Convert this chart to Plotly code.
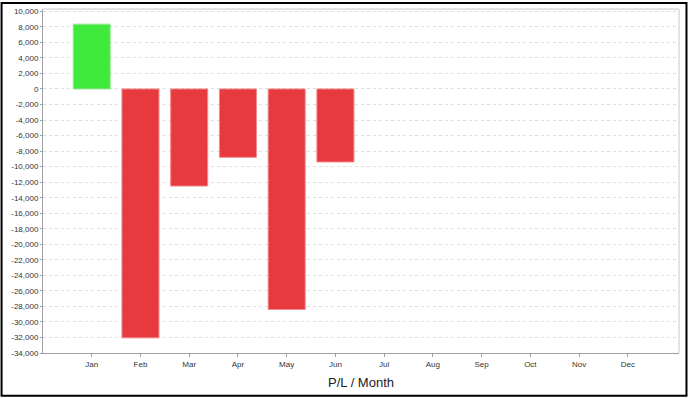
import plotly.graph_objects as go

months = ["Jan", "Feb", "Mar", "Apr", "May", "Jun", "Jul", "Aug", "Sep", "Oct", "Nov", "Dec"]
pl_values = [8350, -32050, -12500, -8800, -28400, -9400, None, None, None, None, None, None]
y_tick_vals = list(range(-34000, 10001, 2000))
y_tick_text = [f"{v:,}" for v in y_tick_vals]

GREEN = "#3FEA3C"
RED = "#E8393E"
colors = [GREEN if (v is not None and v >= 0) else RED for v in pl_values]
line_colors = ["#9BE59A" if (v is not None and v >= 0) else "#F08A8C" for v in pl_values]

W, H = 688, 398
ML, MR, MT, MB = 42.5, 8.5, 7, 45
PW, PH = W - ML - MR, H - MT - MB

fig = go.Figure()
fig.add_trace(go.Bar(
    x=months, y=pl_values,
    marker=dict(color=colors, line=dict(color=line_colors, width=1)),
    width=0.76,
    hoverinfo="x+y",
))

fig.update_layout(
    width=W, height=H,
    margin=dict(l=ML, r=MR, t=MT, b=MB, pad=0),
    paper_bgcolor="white", plot_bgcolor="white",
    showlegend=False,
    font=dict(family="Liberation Sans, Arial, sans-serif", size=8, color="#333"),
    xaxis=dict(
        type="category", categoryorder="array", categoryarray=months,
        range=[-1.0, 12.05],
        showgrid=False, showline=True, linecolor="#A0A0A0", linewidth=1,
        ticks="outside", ticklen=3, tickcolor="#A0A0A0",
        tickfont=dict(size=8, color="#333"),
        title=dict(text="P/L / Month", font=dict(size=13, color="#222"), standoff=10),
    ),
    yaxis=dict(
        range=[-34000, 10300],
        tickvals=y_tick_vals, ticktext=y_tick_text,
        showgrid=True, gridcolor="#DDDDDD", griddash="3px,3px", gridwidth=1,
        zeroline=False,
        showline=True, linecolor="#A0A0A0", linewidth=1,
        ticks="outside", ticklen=2, tickcolor="#A0A0A0",
        tickfont=dict(size=8, color="#333"),
    ),
    shapes=[
        dict(type="line", xref="paper", yref="paper", x0=0, x1=1, y0=1, y1=1,
             line=dict(color="#C8C8C8", width=1)),
        dict(type="line", xref="paper", yref="paper", x0=1, x1=1, y0=0, y1=1,
             line=dict(color="#C8C8C8", width=1)),
        dict(type="rect", xref="paper", yref="paper",
             x0=(1 - ML) / PW, x1=(W - 1 - ML) / PW,
             y0=-(MB - 2) / PH, y1=(PH + MT - 1) / PH,
             line=dict(color="black", width=2), layer="above"),
    ],
)

fig.write_html(
    "out.html",
    config={"displayModeBar": False},
    post_script="document.body.style.margin='0';document.body.style.overflow='hidden';",
)
